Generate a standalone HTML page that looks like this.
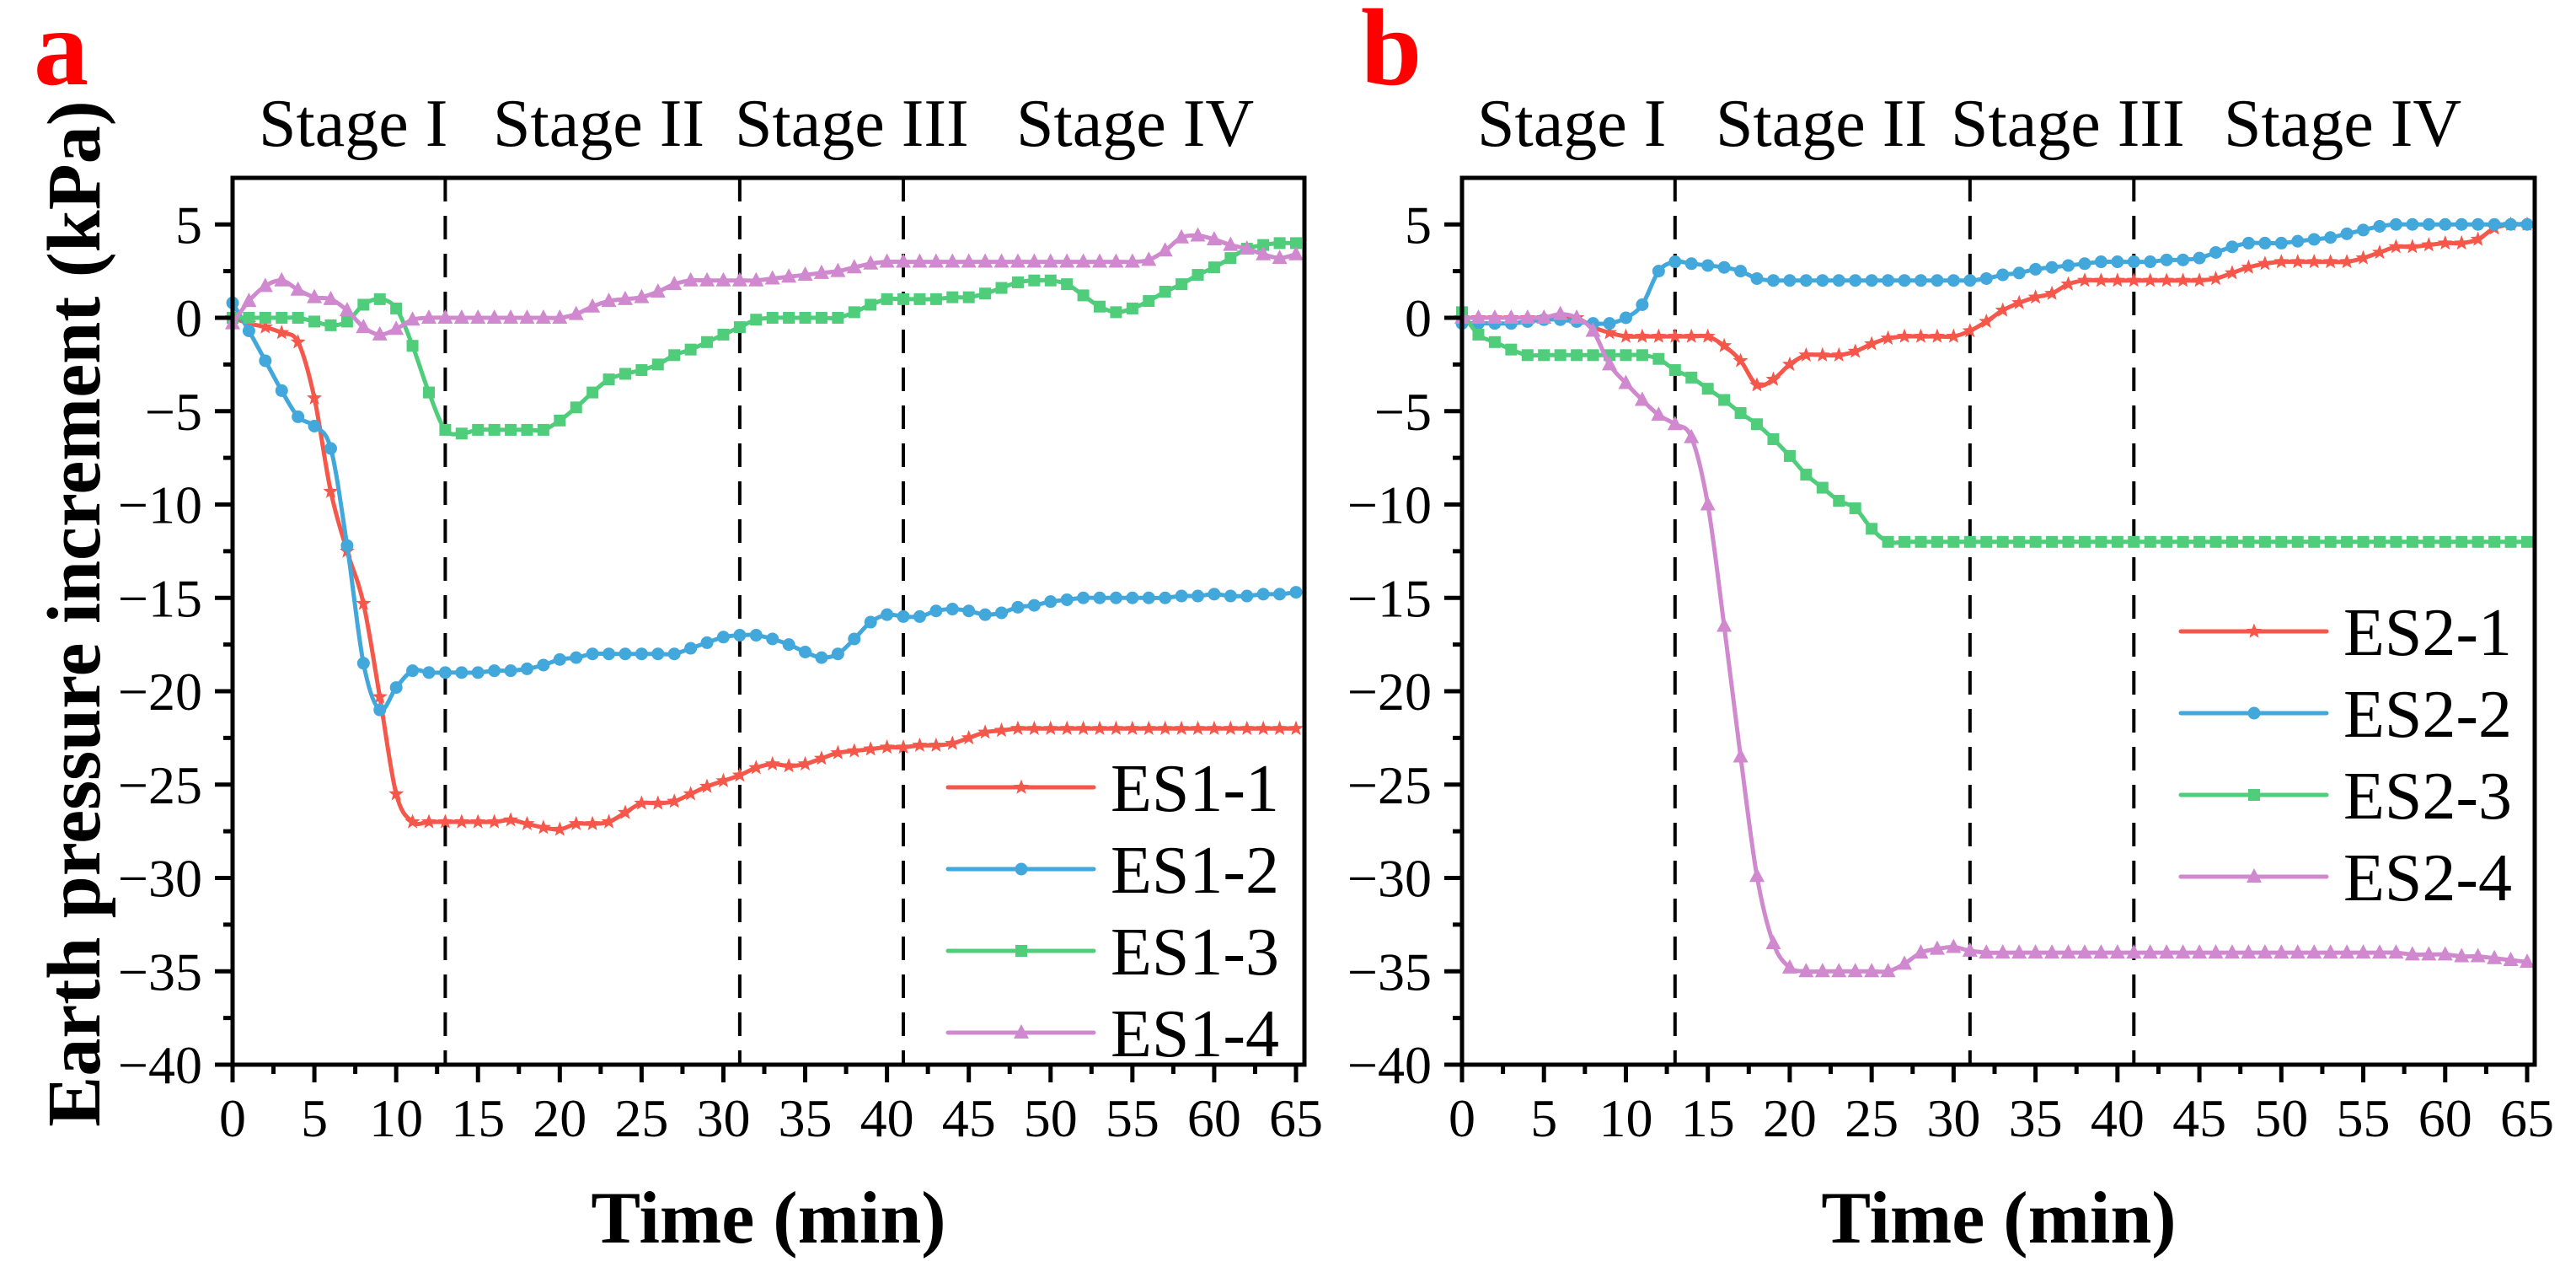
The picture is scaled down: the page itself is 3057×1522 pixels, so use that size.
<!DOCTYPE html>
<html><head><meta charset="utf-8"><style>
html,body{margin:0;padding:0;background:#fff}
svg{display:block}
text{font-family:"Liberation Serif",serif;fill:#000}
</style></head><body>
<svg id="fig" width="3057" height="1522" viewBox="0 0 3057 1522" xmlns="http://www.w3.org/2000/svg"></svg>
<script>
const times = Array.from({length:66},(_,i)=>i);
const xTicks = [0,5,10,15,20,25,30,35,40,45,50,55,60,65];
const yTicks = [5,0,-5,-10,-15,-20,-25,-30,-35,-40];
const stageLines = [13,31,41];
const stageLabels = ["Stage I","Stage II","Stage III","Stage IV"];
const namesA = ["ES1-1","ES1-2","ES1-3","ES1-4"];
const namesB = ["ES2-1","ES2-2","ES2-3","ES2-4"];
const es11 = [0,-0.3,-0.5,-0.8,-1.3,-4.3,-9.3,-12.5,-15.3,-20.3,-25.5,-27,-27,-27,-27,-27,-27,-26.9,-27.1,-27.3,-27.4,-27.1,-27.1,-27,-26.5,-26,-26,-25.9,-25.5,-25.1,-24.8,-24.5,-24.1,-23.9,-24,-23.9,-23.6,-23.3,-23.2,-23.1,-23,-23,-22.9,-22.9,-22.8,-22.5,-22.2,-22.1,-22,-22,-22,-22,-22,-22,-22,-22,-22,-22,-22,-22,-22,-22,-22,-22,-22,-22];
const es12 = [0.8,-0.7,-2.3,-3.9,-5.3,-5.8,-7,-12.2,-18.5,-21,-19.8,-18.9,-19,-19,-19,-19,-18.9,-18.9,-18.8,-18.6,-18.3,-18.2,-18,-18,-18,-18,-18,-18,-17.7,-17.4,-17.1,-17,-17,-17.2,-17.5,-17.9,-18.2,-18,-17.2,-16.3,-15.9,-16,-16,-15.7,-15.6,-15.7,-15.9,-15.8,-15.5,-15.4,-15.2,-15.1,-15,-15,-15,-15,-15,-15,-14.9,-14.9,-14.8,-14.9,-14.9,-14.8,-14.8,-14.7];
const es13 = [0,0,0,0,0,-0.2,-0.4,-0.2,0.7,1,0.5,-1.5,-4,-6,-6.2,-6,-6,-6,-6,-6,-5.5,-4.8,-4,-3.3,-3,-2.8,-2.5,-2,-1.7,-1.3,-0.9,-0.5,-0.1,0,0,0,0,0,0.3,0.7,1,1,1,1,1.1,1.1,1.3,1.6,1.9,2,2,1.8,1.2,0.6,0.3,0.5,0.9,1.4,1.8,2.3,2.7,3.2,3.7,3.9,4,4];
const es14 = [-0.3,0.9,1.7,2,1.5,1.1,1,0.4,-0.5,-0.9,-0.6,-0.1,0,0,0,0,0,0,0,0,0,0.2,0.6,0.9,1,1.1,1.4,1.8,2,2,2,2,2,2.1,2.2,2.3,2.4,2.5,2.7,2.9,3,3,3,3,3,3,3,3,3,3,3,3,3,3,3,3,3.1,3.6,4.3,4.4,4.2,3.9,3.7,3.4,3.2,3.4];
const es21 = [0,0,0,0,0,0,0,0,-0.5,-0.8,-1,-1,-1,-1,-1,-1,-1.5,-2.3,-3.6,-3.3,-2.5,-2,-2,-2,-1.8,-1.4,-1.1,-1,-1,-1,-1,-0.7,-0.2,0.4,0.8,1.1,1.3,1.8,2,2,2,2,2,2,2,2,2.1,2.4,2.7,2.9,3,3,3,3,3,3.2,3.5,3.8,3.8,3.9,4,4,4.2,4.8,5,5];
const es22 = [-0.3,-0.3,-0.3,-0.3,-0.2,-0.1,-0.1,-0.2,-0.3,-0.3,0,0.7,2.5,3,2.9,2.8,2.7,2.5,2.1,2,2,2,2,2,2,2,2,2,2,2,2,2,2.1,2.3,2.4,2.6,2.7,2.8,2.9,3,3,3,3,3.1,3.1,3.2,3.5,3.8,4,4,4,4.1,4.2,4.3,4.5,4.7,4.9,5,5,5,5,5,5,5,5,5];
const es23 = [0.3,-0.9,-1.3,-1.7,-2,-2,-2,-2,-2,-2,-2,-2,-2.2,-2.8,-3.2,-3.8,-4.4,-5.1,-5.7,-6.5,-7.4,-8.4,-9.1,-9.8,-10.2,-11.3,-12,-12,-12,-12,-12,-12,-12,-12,-12,-12,-12,-12,-12,-12,-12,-12,-12,-12,-12,-12,-12,-12,-12,-12,-12,-12,-12,-12,-12,-12,-12,-12,-12,-12,-12,-12,-12,-12,-12,-12];
const es24 = [0,0,0,0,0,0,0.2,0,-0.7,-2.5,-3.5,-4.4,-5.2,-5.7,-6.4,-10,-16.5,-23.5,-29.9,-33.5,-34.8,-35,-35,-35,-35,-35,-35,-34.6,-34,-33.8,-33.7,-33.9,-34,-34,-34,-34,-34,-34,-34,-34,-34,-34,-34,-34,-34,-34,-34,-34,-34,-34,-34,-34,-34,-34,-34,-34,-34,-34,-34.1,-34.1,-34.1,-34.2,-34.2,-34.3,-34.4,-34.5];

const colors = ["#f5574b","#42a7da","#4fcd7b","#d088cf"];
const markers = ["star","circle","square","triangle"];
const NS = "http://www.w3.org/2000/svg";
const svg = document.getElementById('fig');
function mk(tag, attrs, parent){const e=document.createElementNS(NS,tag);for(const k in attrs)e.setAttribute(k,attrs[k]);(parent||svg).appendChild(e);return e;}

function marker(g, type, cx, cy, color){
  let e;
  if(type==="circle"){e=mk('circle',{cx:cx,cy:cy,r:7.5,fill:color},g);}
  else if(type==="square"){e=mk('rect',{x:cx-7,y:cy-7,width:14,height:14,fill:color},g);}
  else if(type==="triangle"){e=mk('polygon',{points:`${cx},${cy-10} ${cx+9},${cy+7} ${cx-9},${cy+7}`,fill:color},g);}
  else {let p=[];for(let i=0;i<10;i++){const r=i%2?4:9.5;const a=-Math.PI/2+i*Math.PI/5;p.push((cx+r*Math.cos(a)).toFixed(1)+','+(cy+r*Math.sin(a)).toFixed(1));}
    e=mk('polygon',{points:p.join(' '),fill:color},g);}
  return e;
}

function panel(cfg){
  const L=cfg.left,R=cfg.right,T=211,B=1263;
  const x0=cfg.x0,x65=cfg.x65;
  const xs=v=>x0+(x65-x0)*v/65;
  const ys=v=>377+(1263-377)*(-v)/40;
  const g=mk('g',{});
  
  
  // panel letter
  const lt=mk('text',{x:cfg.letterX,y:100,'font-size':130,'font-weight':'bold',fill:'#f00',style:'fill:#f00'},g);
  lt.textContent=cfg.letter;
  
  
  // stage labels
  cfg.stageX.forEach((sx,i)=>{
    const t=mk('text',{x:sx,y:173,'font-size':80},g);
    t.textContent=stageLabels[i];
    
    
  });
  // dashed lines
  stageLines.forEach((s,i)=>{
    const l=mk('line',{x1:xs(s),x2:xs(s),y1:T,y2:B,stroke:'#000','stroke-width':4,'stroke-dasharray':'28 17'},g);
    
    
  });
  // series
  cfg.series.forEach((data,si)=>{
    const sg=mk('g',{},g);
    
    
    const pts=times.map((t,i)=>[xs(t),ys(data[i])]);
    let d='M'+pts[0][0]+','+pts[0][1];
    for(let i=0;i<pts.length-1;i++){
      const p0=pts[Math.max(0,i-1)],p1=pts[i],p2=pts[i+1],p3=pts[Math.min(pts.length-1,i+2)];
      const c1=[p1[0]+(p2[0]-p0[0])/6,p1[1]+(p2[1]-p0[1])/6];
      const c2=[p2[0]-(p3[0]-p1[0])/6,p2[1]-(p3[1]-p1[1])/6];
      d+=` C${c1[0].toFixed(1)},${c1[1].toFixed(1)} ${c2[0].toFixed(1)},${c2[1].toFixed(1)} ${p2[0].toFixed(1)},${p2[1].toFixed(1)}`;
    }
    const path=mk('path',{d:d,fill:'none',stroke:colors[si],'stroke-width':5,'stroke-linejoin':'round'},sg);
    
    
    pts.forEach((p,i)=>{
      const m=marker(sg,markers[si],p[0],p[1],colors[si]);
      
      
    });
  });
  // frame
  const fr=mk('rect',{x:L,y:T,width:R-L,height:B-T,fill:'none',stroke:'#000','stroke-width':5},g);
  
  
  // x ticks
  xTicks.forEach(v=>{
    const tk=mk('line',{x1:xs(v),x2:xs(v),y1:B,y2:B+21,stroke:'#000','stroke-width':5},g);
    
    
    if(v<65){const mn=mk('line',{x1:xs(v+2.5),x2:xs(v+2.5),y1:B,y2:B+11,stroke:'#000','stroke-width':5},g);
      
      }
    const t=mk('text',{x:xs(v),y:1348,'font-size':64,'text-anchor':'middle'},g);
    t.textContent=String(v);
    
    
  });
  yTicks.forEach(v=>{
    const tk=mk('line',{x1:L-21,x2:L,y1:ys(v),y2:ys(v),stroke:'#000','stroke-width':5},g);
    
    
    if(v>-40){const mn=mk('line',{x1:L-11,x2:L,y1:ys(v-2.5),y2:ys(v-2.5),stroke:'#000','stroke-width':5},g);
      
      }
    const t=mk('text',{x:L-36,y:ys(v)+22,'font-size':64,'text-anchor':'end'},g);
    t.textContent=v<0?'\u2212'+Math.abs(v):String(v);
    
    
  });
  // x title
  const xt=mk('text',{x:cfg.xTitleX,y:1474,'font-size':88,'font-weight':'bold','text-anchor':'middle'},g);
  xt.textContent='Time (min)';
  
  
  // legend
  const lg=mk('g',{},g);
  
  
  cfg.names.forEach((n,i)=>{
    const y=cfg.legY+i*97;
    const eg=mk('g',{},lg);
    
    
    mk('line',{x1:cfg.legX,x2:cfg.legX+173,y1:y,y2:y,stroke:colors[i],'stroke-width':5,'stroke-linecap':'round'},eg);
    marker(eg,markers[i],cfg.legX+87,y,colors[i]);
    const t=mk('text',{x:cfg.legX+193,y:y+28,'font-size':80},eg);
    t.textContent=n;
  });
}

panel({id:'a',letter:'a',letterX:40,left:276,right:1548,x0:276,x65:1538,
  stageX:[307,585,872,1206],xTitleX:912,legX:1125,legY:934,names:namesA,series:[es11,es12,es13,es14]});
panel({id:'b',letter:'b',letterX:1615,left:1735,right:3008,x0:1735,x65:2999,
  stageX:[1753,2036,2315,2639],xTitleX:2372,legX:2588,legY:749,names:namesB,series:[es21,es22,es23,es24]});

const yt=mk('text',{x:0,y:0,'font-size':90,'font-weight':'bold','text-anchor':'middle',transform:'translate(118,728) rotate(-90)'});
yt.textContent='Earth pressure increment (kPa)';


</script>
</body></html>
